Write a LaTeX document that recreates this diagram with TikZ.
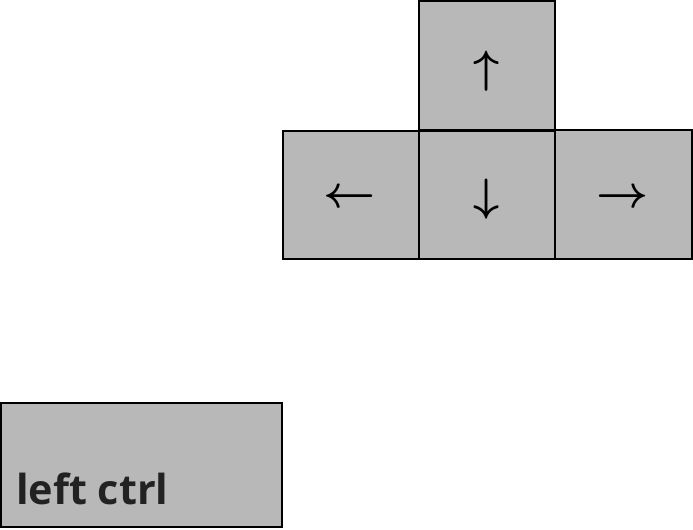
\documentclass[tikz,border=0pt]{standalone}
\usepackage{fontspec}
\usepackage{bm}
\newfontfamily\keyfont{Open Sans}
\definecolor{keygray}{HTML}{B8B8B8}
\definecolor{keytext}{HTML}{222222}
\tikzset{
  key/.style={draw=black,fill=keygray,line width=0.9pt},
  arrowlabel/.style={scale=3.4,inner sep=0pt},
}
\begin{document}
\begin{tikzpicture}[x=0.75pt,y=-0.75pt]
\useasboundingbox (0,0) rectangle (693,529);
%Arrow keys
\draw[key] (419,1) rectangle (555,130);
\draw[key] (283,131) rectangle (419,259);
\draw[key] (419,131) rectangle (555,259);
\draw[key] (555,130) rectangle (692,259);
\node[arrowlabel] (up) at (487,71) {$\bm{\uparrow}$};
\node[arrowlabel] (left) at (350,199) {$\bm{\leftarrow}$};
\node[arrowlabel] (down) at (487,199) {$\bm{\downarrow}$};
\node[arrowlabel] (right) at (623,199) {$\bm{\rightarrow}$};
%Control key
\draw[key] (1,403) rectangle (282,527);
\node[anchor=base west,inner sep=0pt,text=keytext,font=\keyfont\bfseries\fontsize{31}{37}\selectfont] (ctrl) at (16,504) {left ctrl};
\end{tikzpicture}
\end{document}
